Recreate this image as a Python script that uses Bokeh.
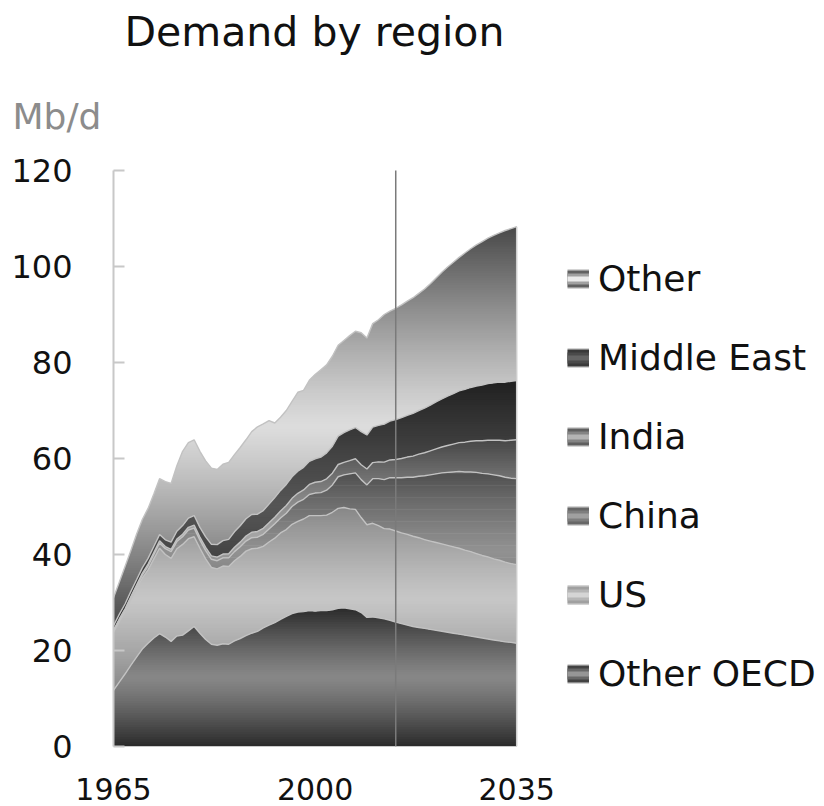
import numpy as np
from bokeh.plotting import figure
from bokeh.models import (ColumnDataSource, FixedTicker, Legend, LegendItem,
                          Title, Range1d)
from bokeh.embed import file_html
from bokeh.resources import INLINE

# ---------------- data (Mb/d) ----------------
years = list(range(1965, 2036))

other_oecd = [11.7, 13.4, 15.1, 16.9, 18.6, 20.3, 21.5, 22.6, 23.5, 22.8,
              21.9, 23.0, 23.2, 24.1, 25.0, 23.6, 22.3, 21.3, 21.1, 21.4,
              21.3, 22.0, 22.5, 23.1, 23.6, 24.0, 24.7, 25.3, 25.8, 26.5,
              27.1, 27.7, 28.0, 28.1, 28.3, 28.2, 28.3, 28.3, 28.5, 28.8,
              28.9, 28.7, 28.5, 27.9, 26.9, 27.0, 26.8, 26.6, 26.3, 25.9,
              25.6, 25.3, 25.0, 24.8, 24.6, 24.4, 24.2, 24.0, 23.8, 23.6,
              23.4, 23.2, 23.0, 22.8, 22.6, 22.4, 22.2, 22.0, 21.8, 21.7,
              21.5]
us = [12.1, 12.6, 13.0, 13.7, 14.3, 14.8, 15.3, 16.5, 17.8, 17.2,
      17.3, 18.2, 18.9, 19.2, 18.7, 17.7, 16.8, 16.0, 15.9, 16.2,
      16.2, 16.7, 17.1, 17.6, 17.6, 17.3, 17.0, 17.3, 17.6, 18.0,
      18.1, 18.6, 18.9, 19.3, 19.8, 19.9, 19.8, 19.9, 20.3, 20.8,
      20.9, 20.8, 20.9, 19.8, 19.3, 19.5, 19.2, 18.8, 19.0, 19.0,
      18.9, 18.9, 18.8, 18.7, 18.5, 18.4, 18.3, 18.2, 18.1, 18.0,
      17.9, 17.7, 17.6, 17.4, 17.2, 17.1, 16.9, 16.8, 16.6, 16.4,
      16.4]
china = [0.2, 0.3, 0.3, 0.3, 0.4, 0.6, 0.8, 0.9, 1.1, 1.2,
         1.4, 1.5, 1.6, 1.8, 1.8, 1.7, 1.7, 1.7, 1.7, 1.7,
         1.8, 1.9, 2.0, 2.1, 2.3, 2.3, 2.5, 2.7, 3.0, 3.1,
         3.4, 3.7, 4.0, 4.1, 4.4, 4.7, 4.8, 5.2, 5.7, 6.6,
         6.8, 7.3, 7.6, 7.9, 8.3, 9.3, 9.8, 10.2, 10.7, 11.1,
         11.5, 11.9, 12.3, 12.8, 13.3, 13.8, 14.3, 14.8, 15.2, 15.6,
         16.0, 16.3, 16.6, 16.9, 17.1, 17.3, 17.5, 17.6, 17.7, 17.8,
         17.9]
india = [0.25, 0.27, 0.29, 0.31, 0.33, 0.37, 0.40, 0.42, 0.45, 0.46,
         0.47, 0.50, 0.53, 0.57, 0.62, 0.64, 0.68, 0.72, 0.76, 0.80,
         0.86, 0.92, 0.98, 1.06, 1.14, 1.20, 1.25, 1.30, 1.35, 1.45,
         1.60, 1.70, 1.85, 1.95, 2.10, 2.25, 2.30, 2.37, 2.45, 2.55,
         2.60, 2.75, 2.95, 3.10, 3.30, 3.35, 3.50, 3.65, 3.70, 3.80,
         4.0, 4.2, 4.4, 4.6, 4.8, 5.0, 5.2, 5.4, 5.6, 5.8,
         6.0, 6.2, 6.4, 6.6, 6.8, 7.0, 7.2, 7.4, 7.6, 7.9,
         8.1]
middle_east = [0.90, 0.95, 1.00, 1.05, 1.10, 1.15, 1.20, 1.25, 1.30, 1.40,
               1.50, 1.65, 1.80, 1.90, 2.00, 2.00, 2.20, 2.40, 2.60, 2.80,
               3.00, 3.20, 3.40, 3.60, 3.70, 3.60, 3.70, 3.90, 4.10, 4.30,
               4.40, 4.50, 4.60, 4.70, 4.80, 4.90, 5.10, 5.40, 5.60, 5.90,
               6.20, 6.40, 6.50, 6.90, 7.10, 7.40, 7.60, 7.90, 8.10, 8.30,
               8.5, 8.7, 8.9, 9.1, 9.3, 9.5, 9.8, 10.0, 10.3, 10.5,
               10.8, 11.0, 11.2, 11.4, 11.6, 11.8, 11.95, 12.1, 12.2, 12.3,
               12.35]
other = [5.85, 6.68, 7.81, 8.54, 9.47, 10.08, 10.40, 10.93, 11.65, 12.14,
         12.23, 13.65, 15.47, 15.73, 15.78, 15.86, 15.82, 15.88, 15.64, 15.90,
         16.04, 16.08, 16.32, 16.44, 17.26, 18.20, 18.05, 17.40, 15.55, 15.25,
         15.40, 15.70, 16.45, 16.05, 16.90, 17.55, 18.20, 18.33, 18.75, 18.95,
         19.20, 19.65, 20.05, 20.60, 20.20, 21.55, 22.00, 22.85, 22.90, 23.20,
         23.5, 23.8, 24.1, 24.4, 24.8, 25.3, 25.8, 26.4, 26.9, 27.4,
         27.8, 28.4, 28.9, 29.4, 29.9, 30.3, 30.75, 31.1, 31.6, 31.8,
         32.05]

series_names = ["Other OECD", "US", "China", "India", "Middle East", "Other"]
series_values = [other_oecd, us, china, india, middle_east, other]
x_ticks = [1965, 2000, 2035]
y_ticks = [0, 20, 40, 60, 80, 100, 120]
forecast_start = 2014

# ---------------- styles ----------------
FONT = "DejaVu Sans"
# (edge grey, centre grey) of each layer's vertical gradient
shades = {"Other OECD": (42, 135), "US": (135, 198), "China": (78, 145),
          "India": (70, 165), "Middle East": (32, 85), "Other": (72, 220)}
BAND = 0.5
OVERLAP = 0.15
W, H = 824, 806
LEFT, TOP, BOTTOM = 113, 170, 60
PX_PER_YEAR = 5.76


def grey(v):
    v = int(round(max(0, min(255, v))))
    return "#%02x%02x%02x" % (v, v, v)


def band_polygon(xs, lo, hi, b0, b1):
    """Exact intersection of the area between lo and hi with b0<=y<=b1."""
    cuts = [xs]
    for c in (lo, hi):
        for lvl in (b0, b1):
            d = c - lvl
            idx = np.where(d[:-1] * d[1:] < 0)[0]
            if len(idx):
                xc = xs[idx] + (lvl - c[idx]) / (c[idx + 1] - c[idx]) * (xs[idx + 1] - xs[idx])
                cuts.append(xc)
    xx = np.unique(np.concatenate(cuts))
    L = np.clip(np.interp(xx, xs, lo), b0, b1)
    U = np.clip(np.interp(xx, xs, hi), b0, b1)
    px = np.concatenate([xx, xx[::-1]])
    py = np.concatenate([U, L[::-1]])
    return px.tolist(), py.tolist()


x_end = years[0] + (W - LEFT) / PX_PER_YEAR   # frame also holds the legend
p = figure(width=W, height=H, x_range=Range1d(years[0], x_end),
           y_range=Range1d(0, 120), output_backend="svg",
           toolbar_location=None, title=None,
           min_border_left=LEFT, min_border_right=0,
           min_border_top=TOP, min_border_bottom=BOTTOM)
p.outline_line_color = None
p.xgrid.visible = False
p.ygrid.visible = False
p.background_fill_color = "white"
p.border_fill_color = "white"

xs = np.array(years, dtype=float)
base = np.zeros(len(years))
tops = []
for name, vals in zip(series_names, series_values):
    lo = base.copy()
    hi = base + np.array(vals, dtype=float)
    tops.append(hi)
    edge, centre = shades[name]
    ymin, ymax = lo.min(), hi.max()
    pxs, pys, cols = [], [], []
    b = ymin
    while b < ymax:
        b1 = min(b + BAND, ymax)
        t = ((b + b1) / 2 - ymin) / (ymax - ymin)
        s = abs(2 * t - 1) ** 1.2
        cols.append(grey(centre + (edge - centre) * s))
        bx, by = band_polygon(xs, lo, hi, b, b1 + OVERLAP)
        pxs.append(bx)
        pys.append(by)
        b = b1
    src = ColumnDataSource(dict(xs=pxs, ys=pys, color=cols))
    p.patches(xs="xs", ys="ys", fill_color="color", line_color=None, source=src)
    base = hi

# boundary lines between layers
for hi in tops:
    p.line(years, hi.tolist(), line_color="#c2c2c2", line_width=1.4)
# right-hand edge of the stack
p.segment(x0=[years[-1]], y0=[0], x1=[years[-1]], y1=[float(tops[-1][-1])],
          line_color="#cfcfcf", line_width=1.5)
# forecast divider
p.segment(x0=[forecast_start], y0=[0], x1=[forecast_start], y1=[120.4],
          line_color="#7a7a7a", line_width=1.5)

# axes
p.xaxis.ticker = FixedTicker(ticks=x_ticks)
p.xaxis.axis_line_color = None
p.xaxis.major_tick_line_color = None
p.xaxis.minor_tick_line_color = None
p.xaxis.major_label_text_font = FONT
p.xaxis.major_label_text_font_size = "30px"
p.xaxis.major_label_text_color = "#111111"
p.xaxis.major_label_standoff = 25

p.yaxis.ticker = FixedTicker(ticks=y_ticks)
p.yaxis.axis_line_color = "#c8c8c8"
p.yaxis.axis_line_width = 2
p.yaxis.major_tick_line_color = "#c8c8c8"
p.yaxis.major_tick_line_width = 2
p.yaxis.major_tick_in = 11
p.yaxis.major_tick_out = 0
p.yaxis.minor_tick_line_color = None
p.yaxis.major_label_text_font = FONT
p.yaxis.major_label_text_font_size = "32px"
p.yaxis.major_label_text_color = "#111111"
p.yaxis.major_label_standoff = 41

# titles
p.add_layout(Title(text="Mb/d", text_font=FONT, text_font_size="36px",
                   text_font_style="normal", text_color="#8c8c8c",
                   align="left", offset=-101, standoff=67), "above")
p.add_layout(Title(text="Demand by region", text_font=FONT,
                   text_font_size="41px", text_font_style="normal",
                   text_color="#111111", align="left", offset=11,
                   standoff=9), "above")

# legend (gradient-looking swatches built from stacked line glyphs;
# each helper line holds a single point, so it draws nothing in the plot)
items = []
for name in reversed(series_names):
    edge, centre = shades[name]
    rs = [p.line([years[-1]], [0], line_color="#d4d4d4", line_width=20),
          p.line([years[-1]], [0], line_color=grey(edge + 25), line_width=17),
          p.line([years[-1]], [0], line_color=grey((edge + centre) / 2 + 15), line_width=11),
          p.line([years[-1]], [0], line_color=grey(centre + 15), line_width=5)]
    items.append(LegendItem(label=name, renderers=rs))
legend = Legend(items=items, location=(454, 52), orientation="vertical",
                glyph_width=22, glyph_height=41, label_standoff=9, spacing=38,
                padding=0, margin=0, border_line_color=None,
                background_fill_alpha=0, label_text_font=FONT,
                label_text_font_size="36px", label_text_color="#111111")
p.add_layout(legend, "center")

open("out.html", "w").write(file_html(p, INLINE))
